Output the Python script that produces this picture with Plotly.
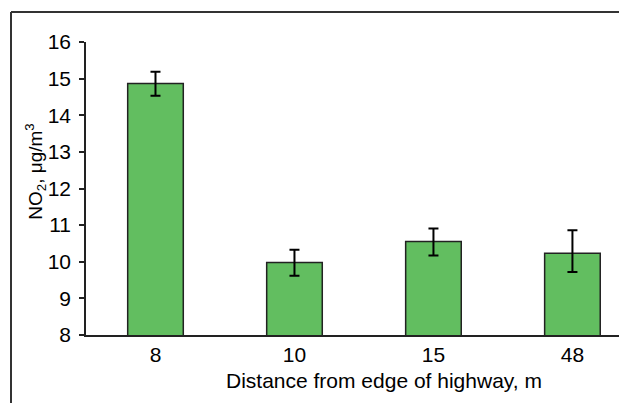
import plotly.graph_objects as go

categories = ["8", "10", "15", "48"]
values = [14.87, 9.98, 10.55, 10.23]
err_plus = [0.32, 0.35, 0.36, 0.63]
err_minus = [0.34, 0.36, 0.38, 0.51]
y_ticks = [8, 9, 10, 11, 12, 13, 14, 15, 16]
x_title = "Distance from edge of highway, m"
y_title = "NO<sub>2</sub>, μg/m<sup>3</sup>"

font_family = "Liberation Sans, Arial, sans-serif"

fig = go.Figure()
fig.add_trace(go.Bar(
    x=categories, y=values, width=0.4,
    marker=dict(color="#62BE60", line=dict(color="#222222", width=1.5)),
    error_y=dict(type="data", array=err_plus, arrayminus=err_minus,
                 color="black", thickness=2, width=5),
))

L, R, T, B = 86, 0, 42, 67.5
W, H = 619, 403
pw, ph = W - L - R, H - T - B

fig.update_layout(
    width=W, height=H,
    margin=dict(l=L, r=R, t=T, b=B, autoexpand=False),
    paper_bgcolor="white", plot_bgcolor="white",
    showlegend=False,
    font=dict(family=font_family, color="black", size=20),
)
fig.update_xaxes(
    type="category", range=[-0.5, 3.335], automargin=False,
    showline=True, linecolor="#222222", linewidth=1.5,
    ticks="", showgrid=False, zeroline=False,
    tickfont=dict(size=21),
)
fig.update_yaxes(
    range=[8, 16], tickvals=y_ticks, automargin=False,
    showline=True, linecolor="#222222", linewidth=1.5,
    ticks="outside", ticklen=5, tickwidth=1.5, tickcolor="#222222",
    ticklabelstandoff=4,
    showgrid=False, zeroline=False,
    tickfont=dict(size=21),
)

fig.add_annotation(text=x_title, xref="paper", yref="paper",
                   x=(384 - L) / pw, y=(H - B - 381) / ph,
                   xanchor="center", yanchor="middle", showarrow=False,
                   font=dict(size=21))
fig.add_annotation(text=y_title, xref="paper", yref="paper",
                   x=(36 - L) / pw, y=(H - B - 172) / ph, textangle=-90,
                   xanchor="center", yanchor="middle", showarrow=False,
                   font=dict(size=19))

# partial outer frame (left and top edges visible)
fx0 = (11 - L) / pw
fy1 = (H - B - 12) / ph
fig.add_shape(type="line", xref="paper", yref="paper",
              x0=fx0, x1=fx0, y0=-0.5, y1=fy1,
              line=dict(color="#333333", width=2))
fig.add_shape(type="line", xref="paper", yref="paper",
              x0=fx0, x1=1.2, y0=fy1, y1=fy1,
              line=dict(color="#333333", width=2))

fig.write_html("out.html",
               config={"displayModeBar": False},
               post_script="document.body.style.margin='0';"
                           "document.body.style.overflow='hidden';")
